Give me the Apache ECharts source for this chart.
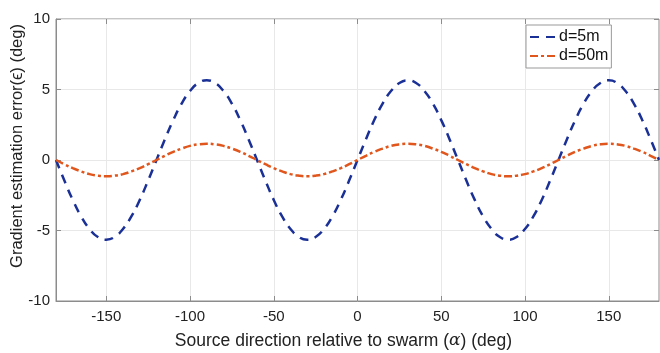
<!DOCTYPE html>
<html><head><meta charset="utf-8">
<script src="https://cdn.jsdelivr.net/npm/echarts@6/dist/echarts.min.js"></script>
<style>html,body{margin:0;padding:0;background:#fff}#c{width:660px;height:353px}</style>
</head><body><div id="c"></div>
<script>
const alpha = [-180,-175,-170,-165,-160,-155,-150,-145,-140,-135,-130,-125,-120,-115,-110,-105,-100,-95,-90,-85,-80,-75,-70,-65,-60,-55,-50,-45,-40,-35,-30,-25,-20,-15,-10,-5,0,5,10,15,20,25,30,35,40,45,50,55,60,65,70,75,80,85,90,95,100,105,110,115,120,125,130,135,140,145,150,155,160,165,170,175,180];
const d5 = [0,-1.46,-2.83,-4.0,-4.89,-5.46,-5.65,-5.46,-4.89,-4.0,-2.83,-1.46,0,1.46,2.83,4.0,4.89,5.46,5.65,5.46,4.89,4.0,2.83,1.46,0,-1.46,-2.83,-4.0,-4.89,-5.46,-5.65,-5.46,-4.89,-4.0,-2.83,-1.46,0,1.46,2.83,4.0,4.89,5.46,5.65,5.46,4.89,4.0,2.83,1.46,0,-1.46,-2.83,-4.0,-4.89,-5.46,-5.65,-5.46,-4.89,-4.0,-2.83,-1.46,0,1.46,2.83,4.0,4.89,5.46,5.65,5.46,4.89,4.0,2.83,1.46,0];
const d50 = [0,-0.30,-0.58,-0.81,-1.0,-1.11,-1.15,-1.11,-1.0,-0.81,-0.58,-0.30,0,0.30,0.58,0.81,1.0,1.11,1.15,1.11,1.0,0.81,0.58,0.30,0,-0.30,-0.58,-0.81,-1.0,-1.11,-1.15,-1.11,-1.0,-0.81,-0.58,-0.30,0,0.30,0.58,0.81,1.0,1.11,1.15,1.11,1.0,0.81,0.58,0.30,0,-0.30,-0.58,-0.81,-1.0,-1.11,-1.15,-1.11,-1.0,-0.81,-0.58,-0.30,0,0.30,0.58,0.81,1.0,1.11,1.15,1.11,1.0,0.81,0.58,0.30,0];
const seriesNames = ['d=5m','d=50m'];
const xTicks = [-150,-100,-50,0,50,100,150];
const yTicks = [-10,-5,0,5,10];

const font = 'Liberation Sans, Arial, Helvetica, sans-serif';
const axisCol = '#8c8c8c';
const chart = echarts.init(document.getElementById('c'));
const pairs = a => alpha.map((x,i)=>[x,a[i]]);
chart.setOption({
  animation:false,
  backgroundColor:'#fff',
  grid:{left:56,right:1,top:19,bottom:52,containLabel:false,outerBoundsMode:'none',show:true,borderColor:axisCol,borderWidth:1},
  legend:{
    orient:'vertical',left:526,top:25,
    backgroundColor:'#fff',borderColor:'#999',borderWidth:1,borderRadius:0,
    padding:[4,3,4,3],itemGap:3,itemWidth:28,itemHeight:14,
    itemStyle:{opacity:0},
    textStyle:{fontFamily:font,fontSize:16,color:'#111',padding:[0,0,0,-4]},
    data:seriesNames
  },
  xAxis:[{
    type:'value',min:-180,max:180,interval:50,
    position:'bottom',
    axisLine:{onZero:false,lineStyle:{color:axisCol}},
    axisTick:{inside:true,length:5,lineStyle:{color:axisCol},customValues:xTicks},
    axisLabel:{fontFamily:font,fontSize:15,color:'#222',margin:8,customValues:xTicks},
    splitLine:{show:true,lineStyle:{color:'#e8e8e8'}},
    name:'Source direction relative to swarm ({i|α}) (deg)',
    nameLocation:'middle',nameGap:31,nameMoveOverlap:false,
    nameTextStyle:{fontFamily:font,fontSize:17.5,color:'#222',padding:[0,28,0,0],rich:{i:{fontFamily:'DejaVu Serif, serif',fontStyle:'italic',fontSize:17,color:'#222'}}}
  },{
    type:'value',min:-180,max:180,position:'top',
    axisLine:{show:false,onZero:false},
    axisTick:{inside:true,length:5,lineStyle:{color:axisCol},customValues:xTicks},
    axisLabel:{show:false},splitLine:{show:false}
  }],
  yAxis:[{
    type:'value',min:-10,max:10,interval:5,
    axisLine:{show:true,onZero:false,lineStyle:{color:axisCol}},
    axisTick:{show:true,inside:true,length:5,lineStyle:{color:axisCol}},
    axisLabel:{fontFamily:font,fontSize:15,color:'#222',margin:6,customValues:yTicks},
    splitLine:{show:true,lineStyle:{color:'#e8e8e8'}},
    name:'Gradient estimation error(ϵ) (deg)',
    nameLocation:'middle',nameGap:30,nameMoveOverlap:false,
    nameTextStyle:{fontFamily:font,fontSize:16.5,color:'#222',padding:[0,0,0,28]}
  },{
    type:'value',min:-10,max:10,interval:5,position:'right',
    axisLine:{show:false,onZero:false},
    axisTick:{show:true,inside:true,length:5,lineStyle:{color:axisCol}},
    axisLabel:{show:false},splitLine:{show:false}
  }],
  series:[{
    name:seriesNames[0],type:'line',data:pairs(d5),smooth:true,showSymbol:false,symbol:'none',
    color:'#1a3096',
    lineStyle:{color:'#1a3096',width:2.5,type:[9,7]}
  },{
    name:seriesNames[1],type:'line',data:pairs(d50),smooth:true,showSymbol:false,symbol:'none',
    color:'#e0561c',
    lineStyle:{color:'#e0561c',width:2.5,type:[8,3,3,3]}
  }]
});
</script></body></html>
